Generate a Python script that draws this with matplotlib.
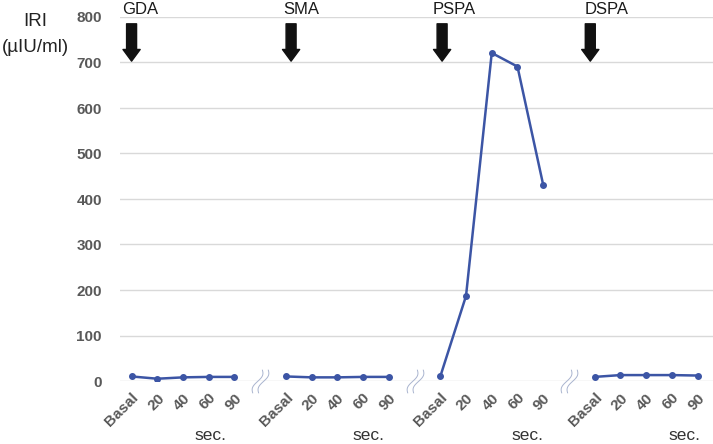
import numpy as np
import matplotlib
matplotlib.use("Agg")
import matplotlib.pyplot as plt
from matplotlib.path import Path

plt.rcParams['font.family'] = ['Liberation Sans', 'DejaVu Sans']

# ---- data ----
groups = ["GDA", "SMA", "PSPA", "DSPA"]
time_labels = ["Basal", "20", "40", "60", "90"]
iri_gda = [10, 5, 8, 9, 9]
iri_sma = [10, 8, 8, 9, 9]
iri_pspa = [10, 187, 721, 691, 431]
iri_dspa = [9, 13, 13, 13, 12]
series = [iri_gda, iri_sma, iri_pspa, iri_dspa]
yticks = [0, 100, 200, 300, 400, 500, 600, 700, 800]

LINE = "#3C55A5"
GRID = "#D9D9D9"
TICK = "#595959"

fig = plt.figure(figsize=(7.13, 4.44), dpi=100)
ax = fig.add_axes([120/713, 63/444, 593/713, 364/444])

step = 6
xs_all, lbl_all = [], []
for g, vals in enumerate(series):
    xs = [g*step + i for i in range(len(vals))]
    ax.plot(xs, vals, color=LINE, lw=1.8, marker='o', ms=4, zorder=3,
            solid_joinstyle='round')
    xs_all += xs
    lbl_all += time_labels

ax.set_xlim(-0.45, 22.6)
ax.set_ylim(0, 800)
ax.set_yticks(yticks)
ax.set_xticks(xs_all)
ax.set_xticklabels(lbl_all, rotation=45, ha='right', rotation_mode='anchor',
                   fontsize=11, fontweight='bold', color=TICK)
ax.tick_params(axis='x', length=0, pad=7)
ax.tick_params(axis='y', length=0, pad=13, labelsize=11, labelcolor=TICK)
for t in ax.get_yticklabels():
    t.set_fontweight('bold')
ax.yaxis.grid(True, color=GRID, lw=1)
ax.set_axisbelow(True)
for s in ax.spines.values():
    s.set_visible(False)

# group labels and arrows
label_x = [-0.38, 5.89, 11.72, 17.6]
arrow_x = [0.0, 6.2, 12.07, 17.83]
for name, lx, axx in zip(groups, label_x, arrow_x):
    ax.text(lx, 1.0, name, transform=ax.get_xaxis_transform(), ha='left',
            va='bottom', fontsize=12, color='#1a1a1a', clip_on=False)
    ax.annotate('', xy=(axx, 703), xytext=(axx, 785),
                arrowprops=dict(arrowstyle='simple,head_width=0.62,head_length=0.42,tail_width=0.36',
                                color='#111111', shrinkA=0, shrinkB=0, mutation_scale=20),
                annotation_clip=False)

# "sec." labels
sec_x = [3.05, 9.2, 15.4, 21.5]
for sx in sec_x:
    ax.text(sx, -0.15, "sec.", transform=ax.get_xaxis_transform(), ha='center',
            va='center', fontsize=12.5, color='#333333', clip_on=False)

# axis break marks
t = np.linspace(-1, 1, 24)
dy = t
dx = 0.4*t + 0.22*np.sin(np.pi*t)
verts, codes = [], []
for off in (-0.25, 0.25):
    for i, (a, b) in enumerate(zip(dx + off, dy)):
        verts.append((a, b))
        codes.append(Path.MOVETO if i == 0 else Path.LINETO)
brk = Path(verts, codes)
for bx in [5, 11, 17]:
    ax.plot([bx], [0], marker=brk, ms=17, mfc='none', mec='#A9B4CF', mew=0.7,
            clip_on=False, zorder=4)

fig.text(35/713, 1 - 22/444, "IRI", ha='center', va='center', fontsize=13.5, color='#222222')
fig.text(35/713, 1 - 47/444, "(µIU/ml)", ha='center', va='center', fontsize=13.5, color='#222222')

fig.savefig("out.png", dpi=100)
